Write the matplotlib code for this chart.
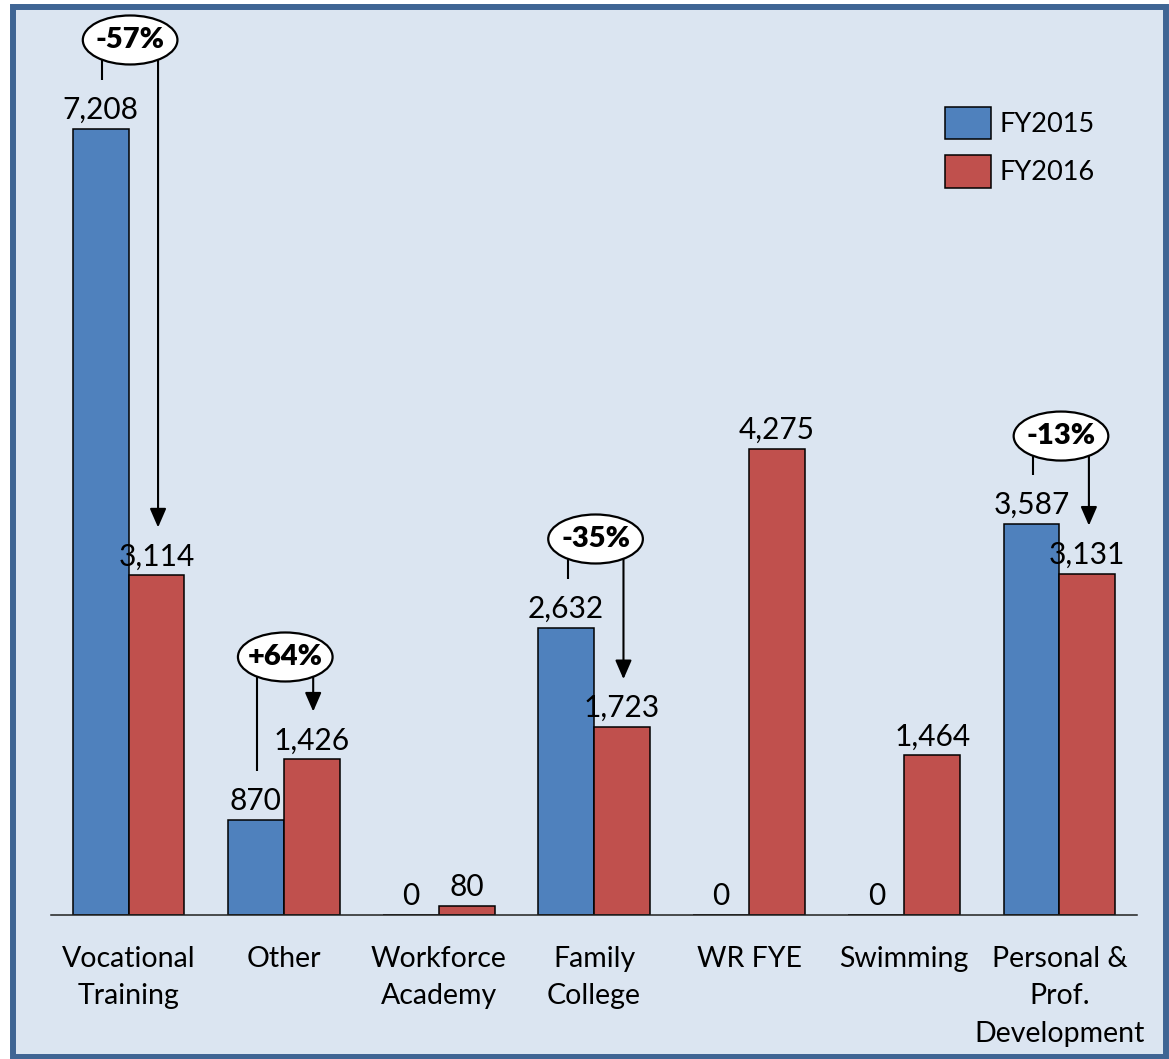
import matplotlib
matplotlib.use("Agg")
import matplotlib.pyplot as plt
from matplotlib.patches import Ellipse, Rectangle, Patch
import numpy as np

# ---- data ----
categories = ["Vocational\nTraining", "Other", "Workforce\nAcademy", "Family\nCollege",
              "WR FYE", "Swimming", "Personal &\nProf.\nDevelopment"]
fy2015 = [7208, 870, 0, 2632, 0, 0, 3587]
fy2016 = [3114, 1426, 80, 1723, 4275, 1464, 3131]
series_names = ["FY2015", "FY2016"]
callout_idx = [0, 1, 3, 6]
callout_txt = ["-57%", "+64%", "-35%", "-13%"]

# ---- style ----
BLUE = "#4f81bd"
RED = "#c0504d"
BG = "#dbe5f1"
BORDER = "#3f6594"
FONT = ["Lato", "DejaVu Sans"]
plt.rcParams["font.family"] = FONT

W, H = 1169, 1059
fig = plt.figure(figsize=(W / 100, H / 100), dpi=100)
fig.patch.set_facecolor("white")

# frame / background
fig.patches.append(Rectangle((13 / W, 2 / H), 1153 / W, (1052 - 2) / H,
                             transform=fig.transFigure, facecolor=BG,
                             edgecolor=BORDER, linewidth=4.3, zorder=0))

ax = fig.add_axes([51 / W, (H - 915) / H, 1086 / W, 872.4 / H])
ax.set_zorder(2)
ax.patch.set_visible(False)
ax.set_xlim(-0.5, 6.5)
ax.set_ylim(0, 8000)

x = np.arange(len(categories))
bw = 0.36
b1 = ax.bar(x - bw / 2, fy2015, bw, color=BLUE, edgecolor="black", linewidth=1.1, zorder=2)
b2 = ax.bar(x + bw / 2, fy2016, bw, color=RED, edgecolor="black", linewidth=1.1, zorder=2)

fs_val = 21.5
fs_tick = 20.5
fs_call = 21
fs_leg = 19.5
for xi, v in zip(x - bw / 2, fy2015):
    ax.annotate(f"{v:,}", (xi, v), xytext=(0, 3.5), textcoords="offset points",
                ha="center", va="bottom", fontsize=fs_val, color="black")
for xi, v in zip(x + bw / 2, fy2016):
    ax.annotate(f"{v:,}", (xi, v), xytext=(0, 3.5), textcoords="offset points",
                ha="center", va="bottom", fontsize=fs_val, color="black")

# axes styling
for s in ["top", "right", "left"]:
    ax.spines[s].set_visible(False)
ax.spines["bottom"].set_color("#202020")
ax.spines["bottom"].set_linewidth(1.1)
ax.set_yticks([])
ax.set_xticks(x)
ax.set_xticklabels(categories, fontsize=fs_tick, linespacing=1.56)
ax.tick_params(axis="x", length=0, pad=22)

# callouts
px_per_unit = 872.4 / 8000
ell_w = 0.61
ell_h = 49 / px_per_unit
gap = 450
ell_offsets = [816, 940, 816, 805]
for i, txt, off in zip(callout_idx, callout_txt, ell_offsets):
    v15, v16 = fy2015[i], fy2016[i]
    ey = max(v15, v16) + off
    # left stem
    ax.plot([i - 0.17, i - 0.17], [ey, v15 + gap], color="black", lw=1.5,
            clip_on=False, zorder=4, solid_capstyle="butt")
    # right arrow
    ax.annotate("", xy=(i + 0.19, v16 + 440), xytext=(i + 0.19, ey),
                arrowprops=dict(arrowstyle="-|>,head_length=1.15,head_width=0.5",
                                color="black", lw=1.5, mutation_scale=10,
                                shrinkA=0, shrinkB=0),
                zorder=4, annotation_clip=False)
    ax.add_patch(Ellipse((i + 0.01, ey), ell_w, ell_h, facecolor="white",
                         edgecolor="black", lw=1.6, zorder=5, clip_on=False))
    ax.text(i + 0.01, ey, txt, ha="center", va="center", fontsize=fs_call,
            fontweight="heavy", zorder=6, clip_on=False)

# legend
handles = [Patch(facecolor=BLUE, edgecolor="black", linewidth=1.1),
           Patch(facecolor=RED, edgecolor="black", linewidth=1.1)]
leg = fig.legend(handles, series_names, loc="upper left",
                 bbox_to_anchor=(945 / W, 1 - 107 / H), frameon=False, fontsize=fs_leg,
                 handlelength=1.7, handleheight=1.45, handletextpad=0.33,
                 labelspacing=0.6, borderpad=0, borderaxespad=0)
leg.set_zorder(3)

fig.savefig("out.png", dpi=100, facecolor=fig.get_facecolor())
